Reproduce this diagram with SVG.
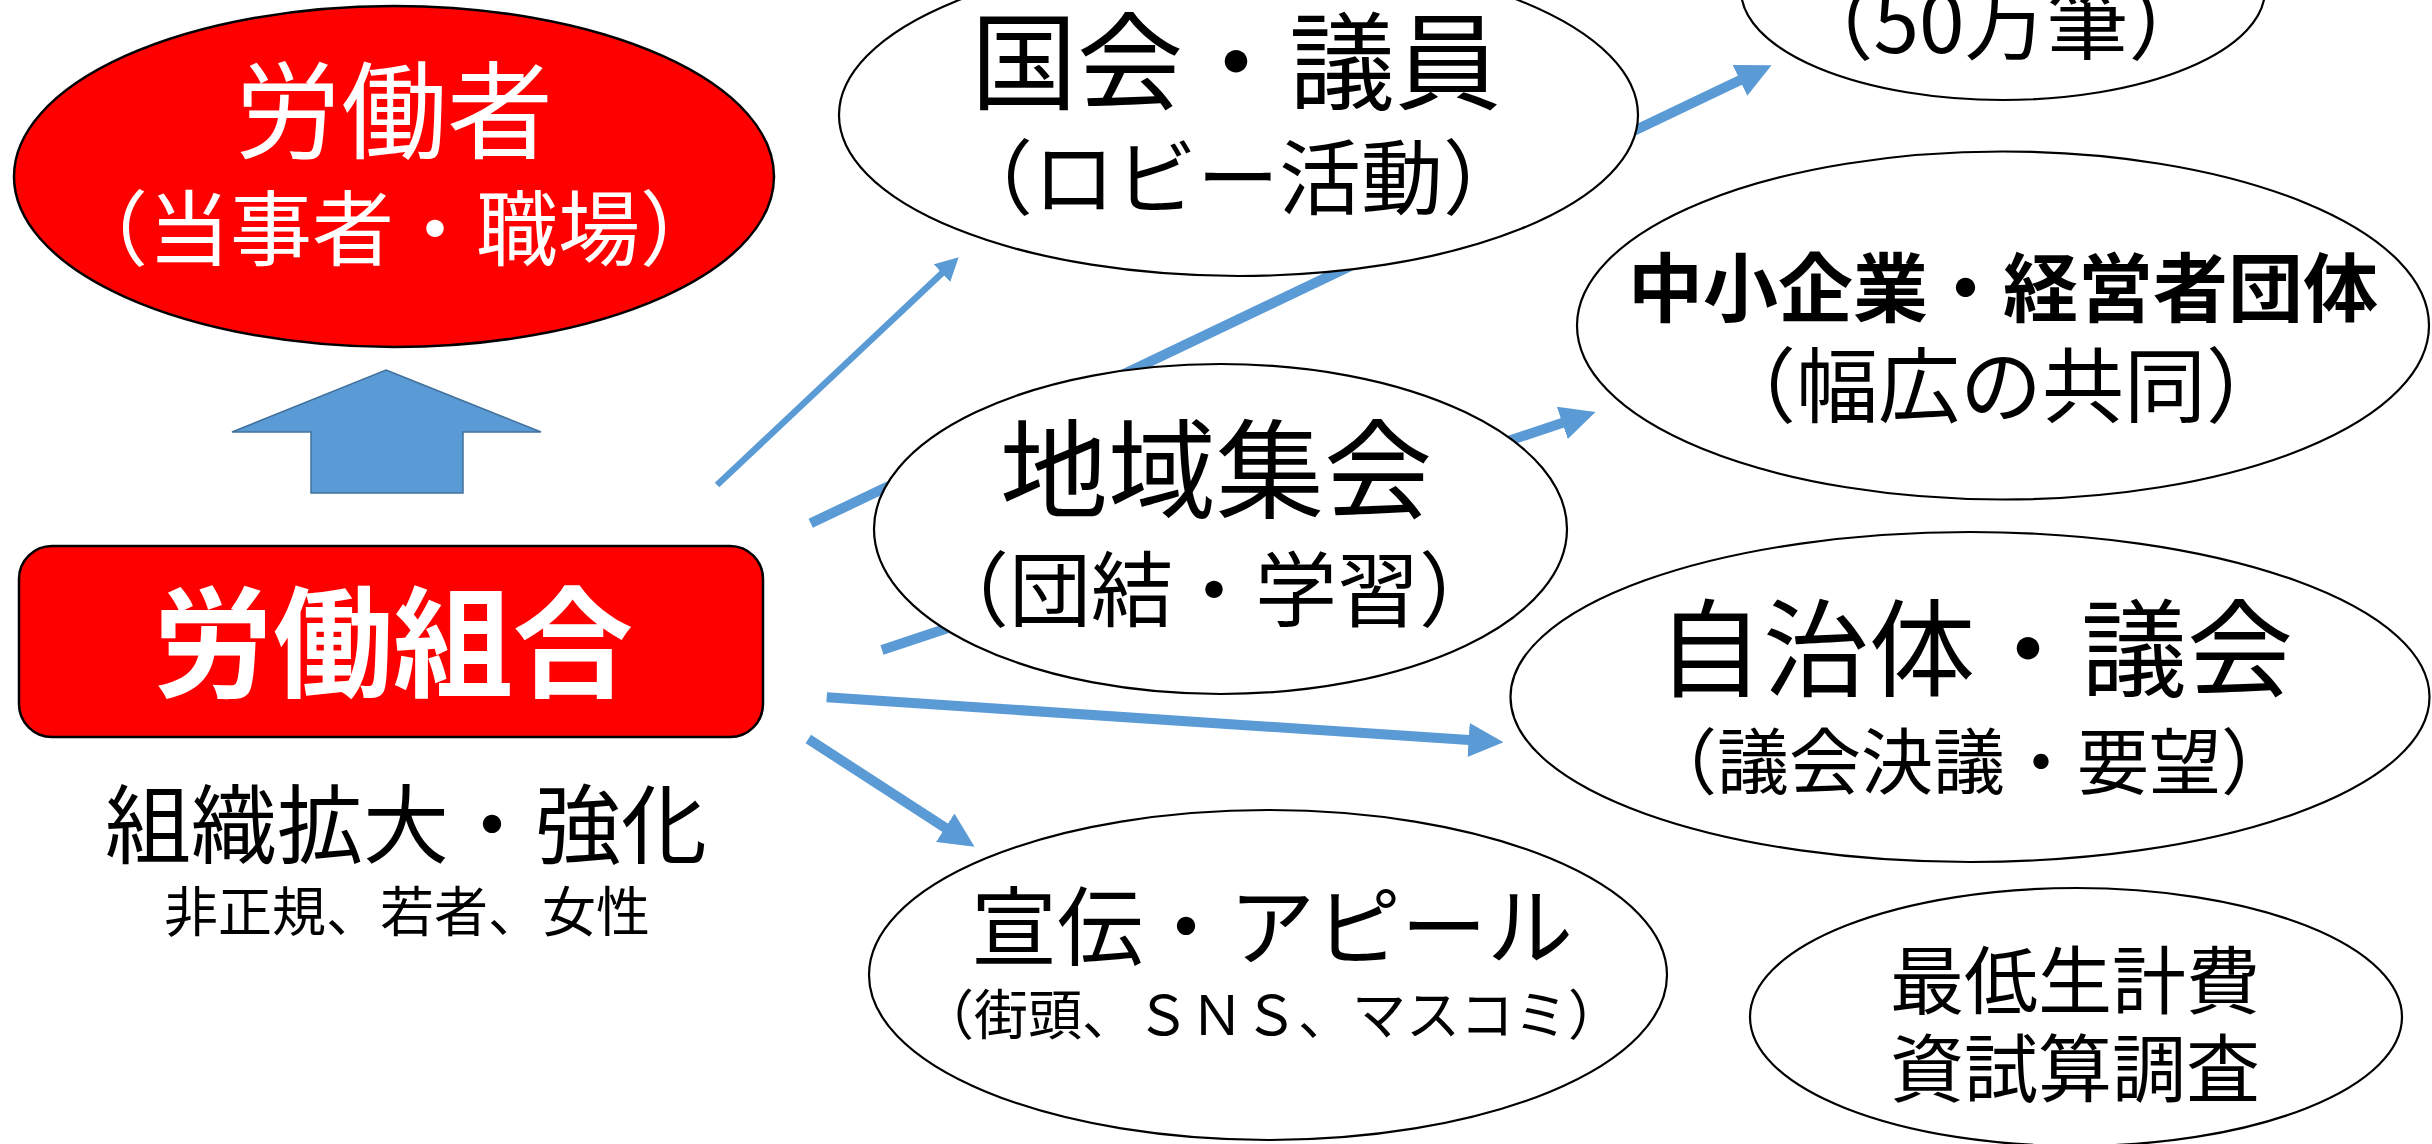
<svg xmlns="http://www.w3.org/2000/svg" width="2432" height="1144" viewBox="0 0 2432 1144">
<style>
  text { font-family: "Noto Sans CJK JP", "Noto Sans CJK SC", sans-serif; text-anchor: middle; }
  .node { fill: #FFFFFF; stroke: #000000; stroke-width: 2.2; }
  .red { fill: #FF0000; stroke: #000000; stroke-width: 2.5; }
  .w { fill: #FFFFFF; }
  .k { fill: #000000; }
  .thin { stroke: #5B9BD5; stroke-width: 6.5; fill: none; marker-end: url(#headS); }
  .thick { stroke: #5B9BD5; stroke-width: 10; fill: none; marker-end: url(#headL); }
  .up { fill: #5B9BD5; stroke: #41719C; stroke-width: 1.5; }
</style>
<defs>
  <marker id="headL" markerUnits="userSpaceOnUse" viewBox="0 0 35 34" markerWidth="35" markerHeight="34" refX="0.5" refY="17" orient="auto">
    <path d="M0,0 L35,17 L0,34 z" fill="#5B9BD5"/>
  </marker>
  <marker id="headS" markerUnits="userSpaceOnUse" viewBox="0 0 23 24" markerWidth="23" markerHeight="24" refX="0.5" refY="12" orient="auto">
    <path d="M0,0 L23,12 L0,24 z" fill="#5B9BD5"/>
  </marker>
</defs>

<g id="connectors">
  <line class="thin" x1="717" y1="485" x2="942.3" y2="272.8"/>
  <line class="thick" x1="810.7" y1="523.3" x2="1740.4" y2="80.1"/>
  <line class="thick" x1="882" y1="650" x2="1562.8" y2="422.8"/>
  <line class="thick" x1="826.7" y1="697.3" x2="1469.1" y2="740"/>
  <line class="thick" x1="808.3" y1="739" x2="945.6" y2="828"/>
  <path class="up" d="M386,370 L541,432 L463,432 L463,493 L311,493 L311,432 L232,432 Z"/>
</g>

<g id="node-roudousha">
  <ellipse class="red" cx="394" cy="176.5" rx="380" ry="170.5"/>
  <text class="w" x="394" y="150" font-size="106">労働者</text>
  <text class="w" x="394" y="259" font-size="82">（当事者・職場）</text>
</g>

<g id="node-kumiai">
  <rect class="red" x="19" y="546" width="744" height="191" rx="33" ry="33" stroke-width="3"/>
  <text class="w" x="393" y="687.6" font-size="120" font-weight="bold">労働組合</text>
</g>

<g id="node-kakudai">
  <text class="k" x="406" y="856.7" font-size="86">組織拡大・強化</text>
  <text class="k" x="407" y="931.5" font-size="54">非正規、若者、女性</text>
</g>

<g id="node-kokkai">
  <ellipse class="node" cx="1238.5" cy="115" rx="399.5" ry="161"/>
  <text class="k" x="1236" y="101" font-size="106">国会・議員</text>
  <text class="k" x="1238" y="207.5" font-size="82">（ロビー活動）</text>
</g>

<g id="node-shomei">
  <ellipse class="node" cx="2003" cy="-10" rx="262" ry="110"/>
  <text class="k" x="2001" y="53" font-size="82">（50万筆）</text>
</g>

<g id="node-chusho">
  <ellipse class="node" cx="2003" cy="325.5" rx="426" ry="174"/>
  <text class="k" x="2003" y="316" font-size="75" font-weight="bold">中小企業・経営者団体</text>
  <text class="k" x="2001" y="415.5" font-size="82">（幅広の共同）</text>
</g>

<g id="node-chiiki">
  <ellipse class="node" cx="1220.5" cy="529" rx="346.5" ry="165"/>
  <text class="k" x="1216" y="509.5" font-size="108">地域集会</text>
  <text class="k" x="1214" y="619.6" font-size="82">（団結・学習）</text>
</g>

<g id="node-jichitai">
  <ellipse class="node" cx="1970" cy="697" rx="459.5" ry="165"/>
  <text class="k" x="1975" y="688" font-size="106">自治体・議会</text>
  <text class="k" x="1969" y="788.4" font-size="72">（議会決議・要望）</text>
</g>

<g id="node-senden">
  <ellipse class="node" cx="1268" cy="975" rx="399" ry="165"/>
  <text class="k" x="1272" y="959" font-size="86">宣伝・アピール</text>
  <text class="k" x="1271" y="1034.5" font-size="54">（街頭、ＳＮＳ、マスコミ）</text>
</g>

<g id="node-saitei">
  <ellipse class="node" cx="2076" cy="1017" rx="326" ry="129"/>
  <text class="k" x="2075" y="1007.5" font-size="74">最低生計費</text>
  <text class="k" x="2075" y="1096" font-size="74">資試算調査</text>
</g>
</svg>
